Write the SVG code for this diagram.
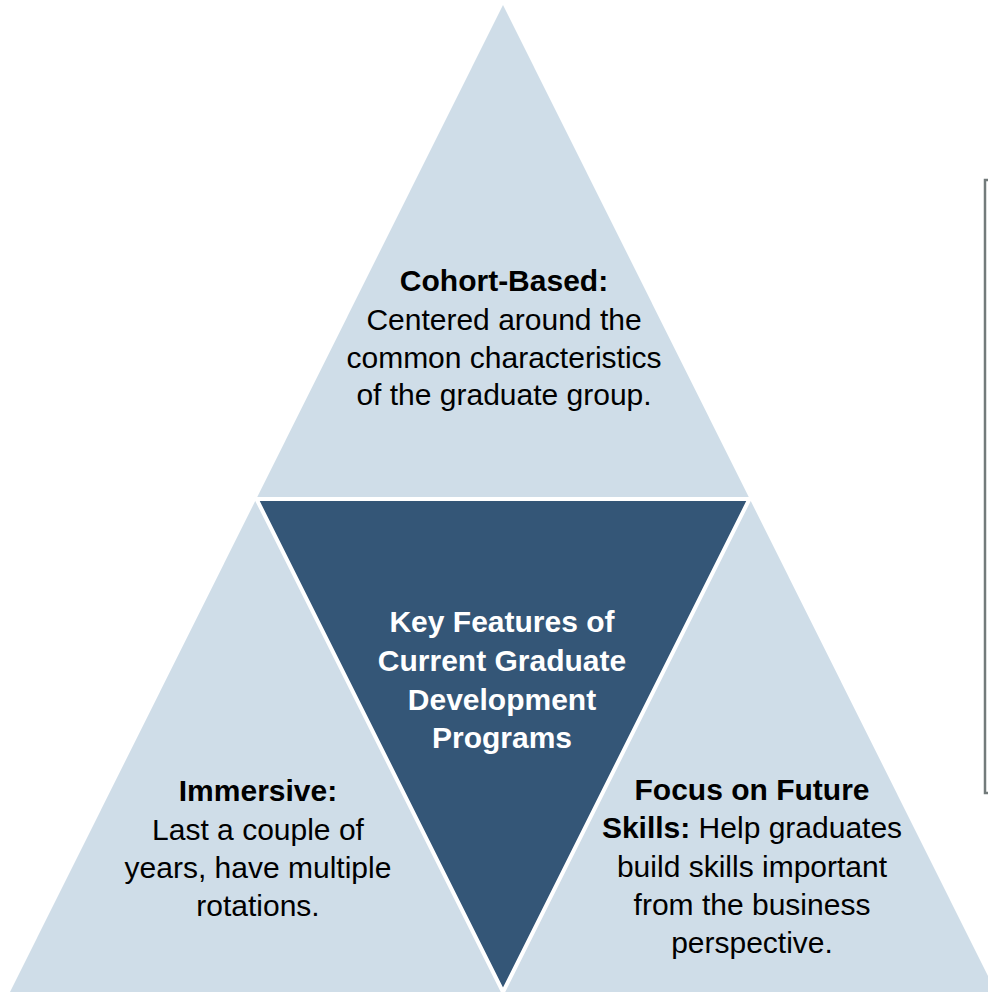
<svg xmlns="http://www.w3.org/2000/svg" width="988" height="992" viewBox="0 0 988 992">
  <style>
    .light { fill: #cfdde8; }
    .dark { fill: #345677; stroke: #ffffff; stroke-width: 4; stroke-linejoin: miter; }
    .t { font-family: "Liberation Sans", Arial, sans-serif; font-size: 30px; text-anchor: middle; fill: #000000; }
    .w { fill: #ffffff; font-weight: bold; }
    .b { font-weight: bold; }
    .frame { fill: #ffffff; stroke: #737b7b; stroke-width: 2.5; }
  </style>
  <rect width="988" height="992" fill="#ffffff"/>

  <!-- side panel edge -->
  <rect class="frame" x="985" y="180" width="20" height="613"/>

  <!-- outer pyramid -->
  <g id="pyramid">
    <polygon class="light" points="503,5 10,992 996,992"/>
  </g>

  <!-- centre: inverted triangle -->
  <g id="key-features">
    <polygon class="dark" points="256.5,499 749.5,499 503,992"/>
    <text class="t w" x="502" y="632">Key Features of</text>
    <text class="t w" x="502" y="671">Current Graduate</text>
    <text class="t w" x="502" y="710">Development</text>
    <text class="t w" x="502" y="748">Programs</text>
  </g>

  <g id="cohort-based">
    <text class="t b" x="504" y="291">Cohort-Based:</text>
    <text class="t" x="504" y="330">Centered around the</text>
    <text class="t" x="504" y="368">common characteristics</text>
    <text class="t" x="504" y="405">of the graduate group.</text>
  </g>

  <g id="immersive">
    <text class="t b" x="258" y="801">Immersive:</text>
    <text class="t" x="258" y="840">Last a couple of</text>
    <text class="t" x="258" y="878">years, have multiple</text>
    <text class="t" x="258" y="916">rotations.</text>
  </g>

  <g id="future-skills">
    <text class="t b" x="752" y="800">Focus on Future</text>
    <text class="t" x="752" y="838"><tspan class="b">Skills:</tspan> Help graduates</text>
    <text class="t" x="752" y="877">build skills important</text>
    <text class="t" x="752" y="915">from the business</text>
    <text class="t" x="752" y="953">perspective.</text>
  </g>

  <!-- no connectors in this figure -->
  <g id="connectors"/>
</svg>
